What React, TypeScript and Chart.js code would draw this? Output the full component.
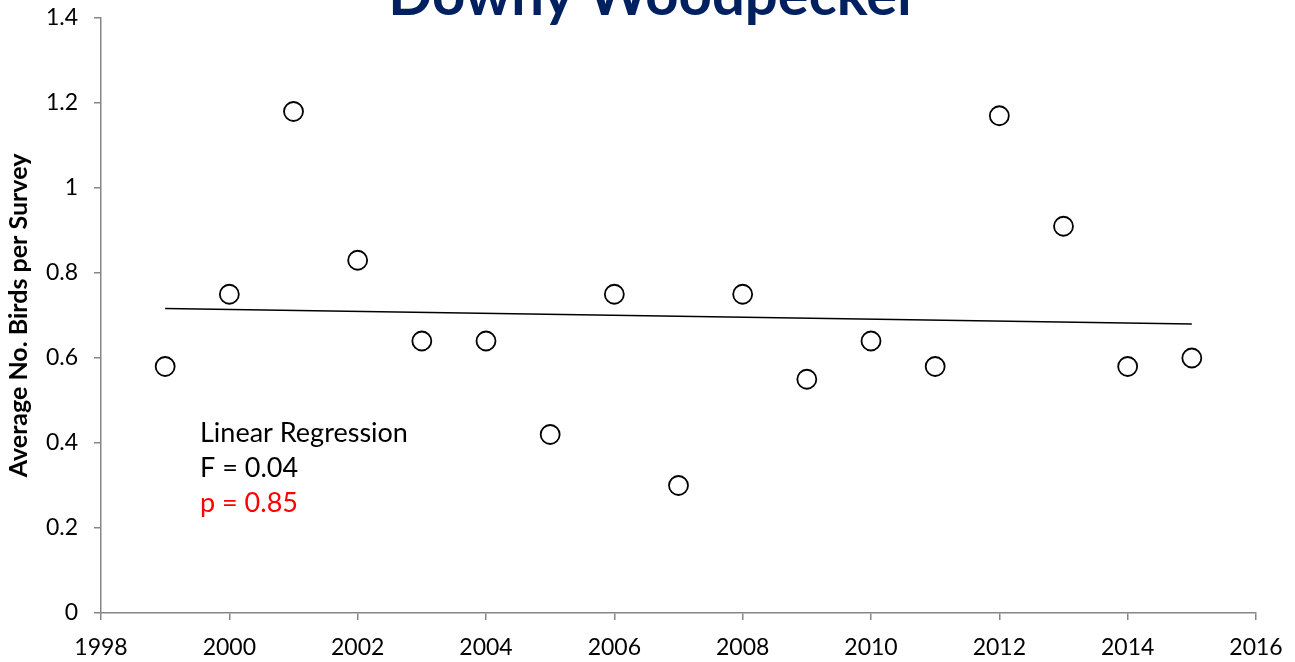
import React, { useEffect, useRef } from "react";
import { Chart, registerables } from "chart.js";

Chart.register(...registerables);

// Survey years and average birds counted per survey
const years: number[] = [1999, 2000, 2001, 2002, 2003, 2004, 2005, 2006, 2007, 2008, 2009, 2010, 2011, 2012, 2013, 2014, 2015];
const birdsPerSurvey: number[] = [0.58, 0.75, 1.18, 0.83, 0.64, 0.64, 0.42, 0.75, 0.30, 0.75, 0.55, 0.64, 0.58, 1.17, 0.91, 0.58, 0.60];

const chartTitle = "Downy Woodpecker";
const yAxisTitle = "Average No. Birds per Survey";
const statLines: string[] = ["Linear Regression", "F = 0.04", "p = 0.85"];

// Least-squares fit across the survey years
function linearFit(xs: number[], ys: number[]) {
  const n = xs.length;
  const mx = xs.reduce((a, b) => a + b, 0) / n;
  const my = ys.reduce((a, b) => a + b, 0) / n;
  let sxy = 0;
  let sxx = 0;
  for (let i = 0; i < n; i++) {
    sxy += (xs[i] - mx) * (ys[i] - my);
    sxx += (xs[i] - mx) * (xs[i] - mx);
  }
  const slope = sxy / sxx;
  return (x: number) => my + slope * (x - mx);
}

const FONT = "Lato, 'Liberation Sans', sans-serif";
const AXIS_GREY = "#868686";

const overlayText = {
  id: "overlayText",
  afterDraw(chart: any) {
    const { ctx, chartArea } = chart;
    ctx.save();
    ctx.fillStyle = "#002060";
    ctx.font = `bold 58px ${FONT}`;
    ctx.textAlign = "center";
    ctx.textBaseline = "alphabetic";
    ctx.fillText(chartTitle, chart.width / 2 + 6, 15);

    ctx.font = `27px ${FONT}`;
    ctx.textAlign = "left";
    const x0 = chartArea.left + 99;
    const y0 = chartArea.top + 424;
    statLines.forEach((line, i) => {
      ctx.fillStyle = i === 2 ? "#ff0000" : "#000000";
      ctx.fillText(line, x0, y0 + i * 35);
    });
    ctx.restore();
  },
};

export default function App() {
  const canvasRef = useRef<HTMLCanvasElement | null>(null);

  useEffect(() => {
    if (!canvasRef.current) return;
    const fit = linearFit(years, birdsPerSurvey);
    const firstYear = years[0];
    const lastYear = years[years.length - 1];

    const chart = new Chart(canvasRef.current, {
      type: "scatter",
      data: {
        datasets: [
          {
            type: "scatter",
            label: "Birds per survey",
            data: years.map((y, i) => ({ x: y, y: birdsPerSurvey[i] })),
            pointStyle: "circle",
            pointRadius: 9.5,
            pointBorderWidth: 1.8,
            pointBackgroundColor: "#ffffff",
            pointBorderColor: "#000000",
            order: 1,
          },
          {
            type: "line",
            label: "Trend",
            data: [
              { x: firstYear, y: fit(firstYear) },
              { x: lastYear, y: fit(lastYear) },
            ],
            borderColor: "#000000",
            borderWidth: 1.5,
            pointRadius: 0,
            fill: false,
            order: 2,
          },
        ],
      },
      options: {
        animation: false,
        responsive: false,
        maintainAspectRatio: false,
        layout: { padding: { top: 18, right: 39, left: 0, bottom: 0 } },
        plugins: {
          legend: { display: false },
          tooltip: { enabled: false },
          title: { display: false },
        },
        scales: {
          x: {
            type: "linear",
            min: 1998,
            max: 2016,
            ticks: {
              stepSize: 2,
              color: "#000000",
              font: { family: FONT, size: 23 },
              padding: 14,
              callback: (v: any) => String(v),
            },
            grid: {
              drawOnChartArea: false,
              drawTicks: true,
              tickLength: 7,
              tickColor: AXIS_GREY,
              lineWidth: 1.5,
            },
            border: { display: true, color: AXIS_GREY, width: 1.5 },
            afterFit: (scale: any) => {
              scale.height = 49;
              scale.paddingLeft = 0;
              scale.paddingRight = 0;
            },
          },
          y: {
            type: "linear",
            min: 0,
            max: 1.4,
            ticks: {
              stepSize: 0.2,
              color: "#000000",
              font: { family: FONT, size: 23 },
              padding: 16,
              callback: (v: any) => String(Math.round(Number(v) * 10) / 10),
            },
            grid: {
              drawOnChartArea: false,
              drawTicks: true,
              tickLength: 7,
              tickColor: AXIS_GREY,
              lineWidth: 1.5,
            },
            border: { display: true, color: AXIS_GREY, width: 1.5 },
            title: {
              display: true,
              text: yAxisTitle,
              color: "#000000",
              font: { family: FONT, size: 25, weight: "bold" },
              padding: { top: 4, bottom: 0 },
            },
            afterFit: (scale: any) => {
              scale.width = 101;
              scale.paddingTop = 0;
              scale.paddingBottom = 0;
            },
          },
        },
      },
      plugins: [overlayText],
    });

    return () => chart.destroy();
  }, []);

  return (
    <div style={{ position: "fixed", left: 0, top: 0, width: 1295, height: 662, background: "#ffffff" }}>
      <canvas ref={canvasRef} width={1295} height={662} style={{ display: "block" }} />
    </div>
  );
}
